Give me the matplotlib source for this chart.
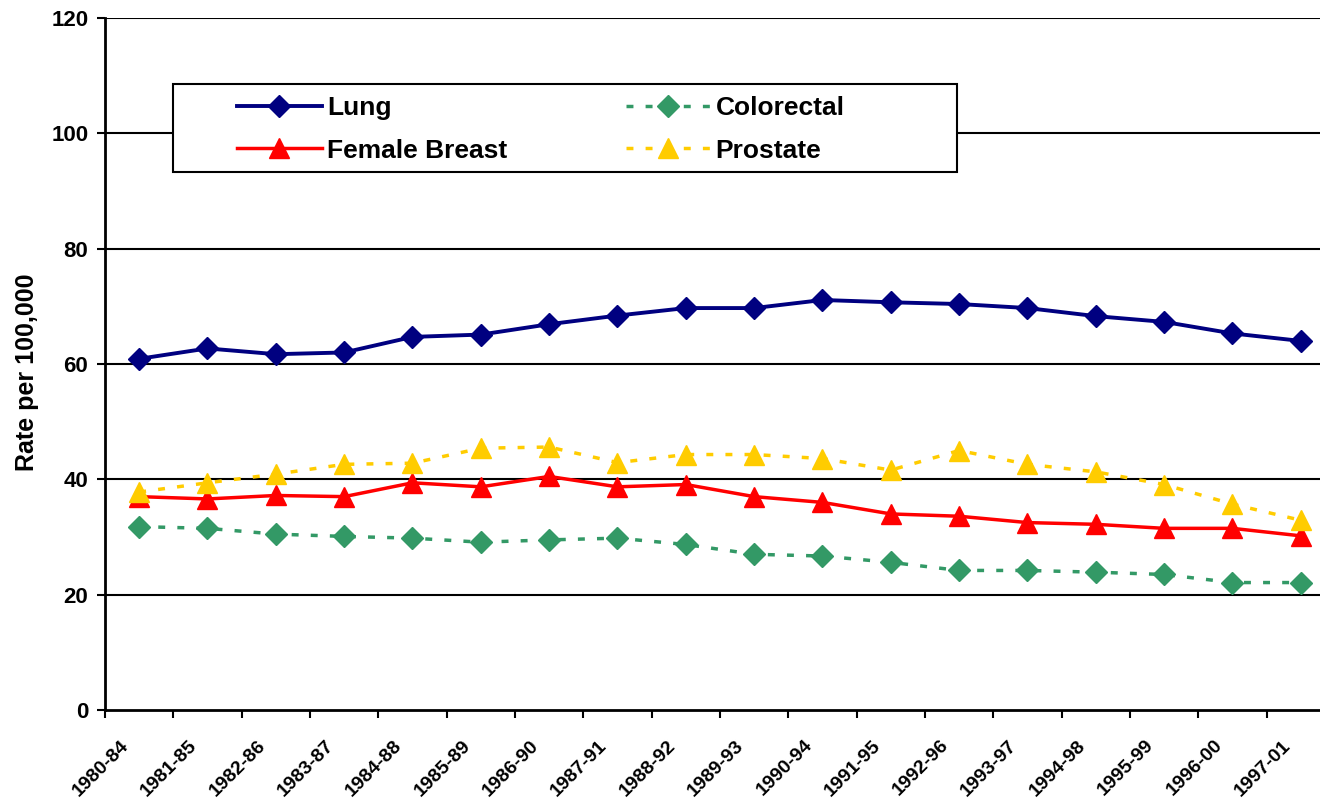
import numpy as np
import matplotlib
matplotlib.use("Agg")
import matplotlib.pyplot as plt
import matplotlib.transforms as mtransforms
from matplotlib.patches import Rectangle

# ---------------- data (rate per 100,000) ----------------
periods = ["1980-84", "1981-85", "1982-86", "1983-87", "1984-88", "1985-89",
           "1986-90", "1987-91", "1988-92", "1989-93", "1990-94", "1991-95",
           "1992-96", "1993-97", "1994-98", "1995-99", "1996-00", "1997-01"]

lung = [60.9, 62.7, 61.7, 62.0, 64.7, 65.1, 66.9, 68.4, 69.7,
        69.7, 71.1, 70.7, 70.4, 69.7, 68.3, 67.3, 65.3, 64.0]
colorectal = [31.8, 31.5, 30.5, 30.1, 29.8, 29.1, 29.5, 29.8, 28.7,
              27.0, 26.7, 25.6, 24.2, 24.2, 23.9, 23.5, 22.1, 22.1]
female_breast = [37.0, 36.6, 37.2, 37.0, 39.4, 38.7, 40.5, 38.7, 39.1,
                 37.0, 36.0, 34.0, 33.6, 32.5, 32.2, 31.5, 31.5, 30.2]
prostate = [37.8, 39.4, 40.9, 42.6, 42.8, 45.4, 45.6, 42.9, 44.3,
            44.3, 43.6, 41.6, 45.0, 42.6, 41.3, 39.1, 35.7, 32.9]

y_ticks = [0, 20, 40, 60, 80, 100, 120]

# ---------------- style ----------------
plt.rcParams['font.family'] = ['Liberation Sans', 'DejaVu Sans']
plt.rcParams['font.weight'] = 'bold'

fig = plt.figure(figsize=(13.2, 8), dpi=100)
W, H = 1320.0, 800.0
# plot area runs a bit past the right edge of the picture, as in the original
ax = fig.add_axes([105 / W, 90 / H, 1230 / W, 692 / H])

x = np.arange(len(periods))
dash = (0, (2, 3.5))

l_lung, = ax.plot(x, lung, color='#000080', lw=2.8, marker='D', ms=11,
                  label='Lung', zorder=3)
l_col, = ax.plot(x, colorectal, color='#339966', lw=2.5, ls=dash, marker='D', ms=11,
                 label='Colorectal', zorder=3)
l_fb, = ax.plot(x, female_breast, color='#FF0000', lw=2.5, marker='^', ms=15,
                label='Female Breast', zorder=3)
l_pro, = ax.plot(x, prostate, color='#FFCC00', lw=2.5, ls=dash, marker='^', ms=15,
                 label='Prostate', zorder=3)

# axes limits and grid
ax.set_xlim(-0.5, len(periods) - 0.5)
ax.set_ylim(0, 120)
ax.set_yticks(y_ticks)
ax.set_yticklabels([str(v) for v in y_ticks], fontsize=16, fontweight='bold')
for v in y_ticks[1:]:
    ax.axhline(v, color='black', lw=1.5, zorder=1)

# tick marks at category boundaries, labels at category centres
ax.set_xticks(np.arange(len(periods) + 1) - 0.5, minor=True)
ax.set_xticks(x)
ax.tick_params(axis='x', which='major', length=0)
ax.tick_params(axis='x', which='minor', length=6, width=1.5, direction='out')
ax.tick_params(axis='y', length=6, width=1.5, direction='out', pad=6)
ax.set_xticklabels(periods, fontsize=14, fontweight='bold', rotation=45,
                   ha='right', va='top', rotation_mode='anchor')
# move the slanted labels down-left (done after tick_params, which resets transforms)
offset = mtransforms.ScaledTranslation(-19 / 100.0, -22 / 100.0, fig.dpi_scale_trans)
for lbl in ax.get_xticklabels():
    lbl.set_transform(lbl.get_transform() + offset)

for side in ['top', 'right']:
    ax.spines[side].set_visible(False)
for side in ['left', 'bottom']:
    ax.spines[side].set_linewidth(2)
    ax.spines[side].set_zorder(4)

ax.set_ylabel('Rate per 100,000', fontsize=18, fontweight='bold')
ax.yaxis.set_label_coords(-0.054, 0.488)

# legend box (drawn separately so the padding matches the original)
box = Rectangle((173 / W, 1 - 172 / H), (957 - 173) / W, (172 - 84) / H,
                transform=fig.transFigure, facecolor='white', edgecolor='black',
                lw=1.5, zorder=5)
fig.patches.append(box)
# column-wise order so rows read Lung / Colorectal, Female Breast / Prostate
leg = fig.legend([l_lung, l_fb, l_col, l_pro],
                 ['Lung', 'Female Breast', 'Colorectal', 'Prostate'],
                 loc='upper left', bbox_to_anchor=(224 / W, 1 - 83 / H), ncol=2,
                 frameon=False, fontsize=19, handlelength=3.2, handletextpad=0.2,
                 columnspacing=4.5, labelspacing=0.7, borderpad=0.0)
leg.set_zorder(6)
for t in leg.get_texts():
    t.set_fontweight('bold')

fig.savefig('out.png', dpi=100)
